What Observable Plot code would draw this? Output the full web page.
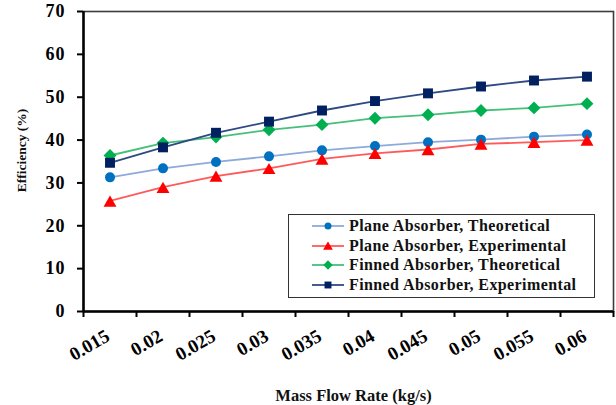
<!DOCTYPE html>
<html>
<head>
<meta charset="utf-8">
<script src="https://cdn.jsdelivr.net/npm/d3@7"></script>
<script src="https://cdn.jsdelivr.net/npm/@observablehq/plot@0.6"></script>
<style>
  html, body { margin: 0; padding: 0; background: #fff; }
  #wrap { position: relative; width: 616px; height: 405px; font-family: "Liberation Serif", serif; }
  #wrap svg text { font-family: "Liberation Serif", serif !important; font-weight: bold; }
  #legend {
    position: absolute; left: 288px; top: 214px; width: 305px; height: 81px;
    border: 1.5px solid #333; background: #fff; box-sizing: content-box;
    font-family: "Liberation Serif", serif; font-weight: bold;
    font-size: 16px; letter-spacing: 0.4px; color: #111;
    padding-top: 1px;
  }
  #legend .row { display: flex; align-items: center; height: 19.7px; }
  #legend svg { flex: none; margin-left: 22px; margin-right: 4px; }
  g[aria-label="y-axis tick label"] text { letter-spacing: 1px; }
</style>
</head>
<body>
<div id="wrap"></div>
<script>
// ---- data ----
const massFlow = [0.015, 0.02, 0.025, 0.03, 0.035, 0.04, 0.045, 0.05, 0.055, 0.06];
const massFlowLabels = ["0.015", "0.02", "0.025", "0.03", "0.035", "0.04", "0.045", "0.05", "0.055", "0.06"];
const planeTheoretical  = [31.3, 33.4, 34.9, 36.2, 37.6, 38.6, 39.5, 40.1, 40.8, 41.3];
const planeExperimental = [25.8, 29.0, 31.6, 33.4, 35.6, 36.9, 37.8, 39.1, 39.5, 40.0];
const finnedTheoretical = [36.4, 39.3, 40.7, 42.4, 43.6, 45.1, 45.9, 46.9, 47.5, 48.5];
const finnedExperimental = [34.7, 38.3, 41.7, 44.3, 46.9, 49.1, 50.9, 52.5, 53.9, 54.8];
const seriesNames = ["Plane Absorber, Theoretical", "Plane Absorber, Experimental", "Finned Absorber, Theoretical", "Finned Absorber, Experimental"];
const yTicks = [0, 10, 20, 30, 40, 50, 60, 70];

// ---- styles ----
const FONT = "'Liberation Serif', serif";
const seriesValues = [planeTheoretical, planeExperimental, finnedTheoretical, finnedExperimental];
const markerColors = ["#0070c0", "#ff0000", "#00b050", "#002060"];
const lineColors = ["#8eaadb", "#ff5a5a", "#45c07a", "#2f4a82"];
const symbols = ["circle", "triangle", "diamond2", "square"];
const markerR = [5, 4.8, 5.8, 5.6];
const markerDy = [0, 2, 0, 0];

const rows = [];
seriesValues.forEach((vals, s) => vals.forEach((v, i) => rows.push({series: seriesNames[s], s, x: massFlow[i], y: v})));

const step = massFlow[1] - massFlow[0];
const xDomain = [massFlow[0] - step / 2, massFlow[massFlow.length - 1] + step / 2];
const boundaries = massFlow.map(d => d - step / 2).concat([xDomain[1]]);

const marks = [
  Plot.frame({stroke: "#3c3c3c", strokeWidth: 1.6}),
  Plot.axisY(yTicks, {tickSize: 6, tickPadding: 12, fontSize: 18, fontWeight: "bold", fontFamily: FONT, label: null, stroke: "#000", strokeWidth: 2}),
  Plot.axisX(boundaries, {tickSize: 6, tickFormat: () => "", label: null, stroke: "#000", strokeWidth: 2}),
  Plot.axisX(massFlow, {tickSize: 0, tickRotate: -30, tickPadding: 23, dx: -2, fontSize: 19, fontWeight: "bold", fontFamily: FONT, label: null,
    tickFormat: d => massFlowLabels[massFlow.indexOf(d)]}),
  Plot.ruleX([xDomain[0]], {stroke: "#000", strokeWidth: 2.5}),
  Plot.ruleY([0], {stroke: "#000", strokeWidth: 2.5}),
];
seriesValues.forEach((vals, s) => {
  const data = rows.filter(r => r.s === s);
  marks.push(Plot.line(data, {x: "x", y: "y", stroke: lineColors[s], strokeWidth: 1.8}));
});
seriesValues.forEach((vals, s) => {
  const data = rows.filter(r => r.s === s);
  marks.push(Plot.dot(data, {x: "x", y: "y", symbol: () => symbols[s], r: markerR[s], fill: markerColors[s], stroke: "none", dy: markerDy[s]}));
});
marks.push(Plot.text(["Mass Flow Rate (kg/s)"], {text: d => d, frameAnchor: "bottom", textAnchor: "middle", lineAnchor: "middle", dy: 84, dx: 5, fontSize: 16.5, fontWeight: "bold", fontFamily: FONT, fill: "#111"}));
marks.push(Plot.text(["Efficiency (%)"], {text: d => d, frameAnchor: "left", textAnchor: "middle", lineAnchor: "middle", rotate: -90, dx: -62, dy: -11, fontSize: 13.5, fontWeight: "bold", fontFamily: FONT, fill: "#111"}));

const chart = Plot.plot({
  width: 616,
  height: 405,
  marginLeft: 83,
  marginRight: 3,
  marginTop: 11,
  marginBottom: 94,
  style: {fontFamily: FONT, color: "#000", background: "#fff", overflow: "visible"},
  x: {type: "linear", domain: xDomain},
  y: {domain: [0, 70]},
  symbol: {type: "identity"},
  marks
});

const wrap = document.getElementById("wrap");
wrap.appendChild(chart);

// ---- legend ----
const legend = document.createElement("div");
legend.id = "legend";
const legendSymbolSize = [3.5, 3.6, 4.2, 3.9];
const d3Symbols = [d3.symbolCircle, d3.symbolTriangle, d3.symbolDiamond2, d3.symbolSquare];
seriesNames.forEach((name, s) => {
  const row = document.createElement("div");
  row.className = "row";
  const size = Math.PI * legendSymbolSize[s] ** 2;
  const path = d3.symbol(d3Symbols[s], size)();
  row.innerHTML = `<svg width="34" height="14" viewBox="0 0 34 14">
    <line x1="1" x2="33" y1="7" y2="7" stroke="${lineColors[s]}" stroke-width="1.8"/>
    <path d="${path}" transform="translate(17,${s === 1 ? 8 : 7})" fill="${markerColors[s]}"/>
  </svg><span>${name}</span>`;
  legend.appendChild(row);
});
wrap.appendChild(legend);
</script>
</body>
</html>
